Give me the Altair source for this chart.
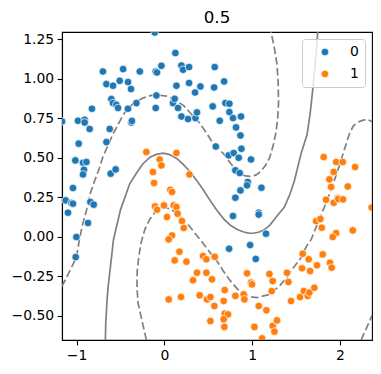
import altair as alt
import pandas as pd

# ---- scatter data ----
blue_x = [-1.166, -0.11, 0.125, -0.70, -0.47, -0.28, -0.10, -0.085, -0.034, 0.194, 0.213, 0.281, 0.573,
          -0.66, -0.585, -0.509, -0.414, -0.38, 0.281, 0.137, 0.41, 0.349, 0.566, 0.68,
          -0.604, -0.585, -0.547, -0.528, -0.825, -0.415, -0.319, -0.099, -0.091, 0.098, 0.117, 0.155,
          0.194, 0.269, 0.353, 0.371, 0.55, 0.695, 0.74, 0.74, 0.63, 0.781, 0.872, 0.816, 0.866,
          0.877, 0.585, 0.732, 0.789, 0.846, 0.986, 0.808, 0.858, 0.949,
          -0.984, -0.908, -0.908, -0.851, -0.976, -1.014, -0.927, -0.888, -0.916, -0.927,
          -0.623, -0.66, -0.612, -0.555, -1.041, -0.376, -0.37,
          -1.124, -1.059, -1.041, -1.098, -0.843, -0.805, -0.87, -1.002, -1.01,
          0.866, 0.941, 1.105, 0.808, 0.781, 1.074, 1.074, 1.157, 0.976, 0.737, 1.04]
blue_y = [0.73, 1.293, 1.163, 1.046, 1.061, 1.046, 1.046, 1.04, 1.082, 1.084, 1.057, 1.074, 1.074,
          0.966, 0.956, 0.987, 0.979, 0.935, 0.973, 0.956, 0.951, 0.913, 0.945, 0.983,
          0.871, 0.846, 0.835, 0.815, 0.81, 0.81, 0.846, 0.815, 0.894, 0.846, 0.873, 0.815,
          0.761, 0.745, 0.751, 0.787, 0.825, 0.846, 0.842, 0.789, 0.734, 0.751, 0.761, 0.692, 0.641,
          0.557, 0.571, 0.515, 0.53, 0.5, 0.489, 0.42, 0.403, 0.346,
          0.734, 0.74, 0.723, 0.682, 0.589, 0.483, 0.468, 0.473, 0.424, 0.394,
          0.682, 0.599, 0.399, 0.426, 0.308, 0.723, 0.733,
          0.23, 0.213, 0.209, 0.152, 0.22, 0.203, 0.087, -0.002, -0.129,
          0.293, 0.325, 0.31, 0.247, 0.131, 0.152, 0.14, 0.019, -0.053, -0.076, -0.141]

orange_x = [-0.205, -0.054, -0.034, 0.137, -0.13, 0.285, -0.118, 0.068, 0.087,
            1.814, 1.955, 2.031, 2.171, 1.928, 1.879, 2.088, 1.898, 1.84, 1.928, 1.974, 1.98, 2.034, 2.36,
            -0.106, -0.005, -0.084, 0.106, 0.137, 0.15, 0.2, 0.03, 0.22, 0.087, 0.049,
            0.171, 0.117, 0.251, 0.44, 0.478, 0.573, 0.371, 0.326, 0.478, 0.542,
            0.402, 0.485, 0.524, 0.569, 0.687, 0.675, 0.808, 0.903, 0.911, 0.941, 0.986, 0.998,
            1.074, 1.162, 1.196, 1.233, 1.222, 1.396, 1.412, 1.442, 0.049, 0.189,
            0.524, 0.687, 0.724, 0.675, 0.683, 1.025, 1.112, 1.233, 1.282, 1.253,
            1.545, 1.575, 1.567, 1.643, 1.659, 1.587, 1.632, 1.651, 1.708, 1.738,
            1.727, 1.776, 1.792, 1.803, 1.886, 1.905, 1.955, 1.917, 2.145]
orange_y = [0.536, 0.489, 0.451, 0.53, 0.41, 0.394, 0.34, 0.297, 0.283,
            0.504, 0.473, 0.473, 0.441, 0.41, 0.363, 0.318, 0.315, 0.234, 0.215, 0.245, 0.238, 0.236, 0.185,
            0.192, 0.198, 0.171, 0.198, 0.188, 0.146, 0.099, 0.125, 0.055, 0.008, -0.017,
            -0.095, -0.15, -0.158, -0.122, -0.143, -0.127, -0.228, -0.276, -0.228, -0.27,
            -0.371, -0.397, -0.382, -0.439, -0.338, -0.407, -0.375, -0.365, -0.397, -0.232, -0.291, -0.302,
            -0.439, -0.466, -0.236, -0.281, -0.344, -0.228, -0.287, -0.407, -0.397, -0.382,
            -0.534, -0.487, -0.492, -0.523, -0.571, -0.571, -0.644, -0.565, -0.53, -0.601,
            -0.382, -0.108, -0.2, -0.143, -0.217, -0.344, -0.375, -0.354, -0.323, -0.181,
            0.099, 0.112, 0.057, -0.112, -0.165, -0.196, 0.023, -0.002, 0.04]

# ---- decision-function contour lines ----
c0_x = [-0.672, -0.668, -0.655, -0.642, -0.623, -0.60, -0.58, -0.50, -0.395, -0.31, -0.244, -0.16, -0.091,
        -0.015, 0.06, 0.144, 0.22, 0.296, 0.37, 0.448, 0.52, 0.599, 0.68, 0.752, 0.83, 0.903, 0.96,
        1.017, 1.08, 1.131, 1.199, 1.28, 1.367, 1.43, 1.481, 1.556, 1.624, 1.66, 1.689, 1.72, 1.746]
c0_y = [-0.654, -0.55, -0.42, -0.323, -0.23, -0.12, -0.019, 0.17, 0.335, 0.41, 0.462, 0.505, 0.521,
        0.529, 0.52, 0.494, 0.455, 0.41, 0.355, 0.293, 0.23, 0.166, 0.11, 0.072, 0.045, 0.03, 0.023,
        0.022, 0.03, 0.042, 0.072, 0.13, 0.188, 0.27, 0.356, 0.525, 0.645, 0.78, 0.93, 1.11, 1.296]

cp_x = [-1.166, -1.08, -1.002, -0.965, -0.93, -0.888, -0.84, -0.79, -0.737, -0.699, -0.585, -0.50,
        -0.433, -0.34, -0.244, -0.15, -0.061, 0.023, 0.099, 0.144, 0.22, 0.296, 0.40, 0.485, 0.554,
        0.62, 0.675, 0.76, 0.82, 0.866, 0.92, 0.979, 1.04, 1.093, 1.15, 1.199, 1.24, 1.27, 1.29, 1.30,
        1.295, 1.28, 1.25, 1.214]
cp_y = [-0.315, -0.22, -0.13, -0.01, 0.08, 0.166, 0.28, 0.36, 0.44, 0.508, 0.65, 0.74,
        0.804, 0.85, 0.878, 0.895, 0.896, 0.89, 0.875, 0.856, 0.83, 0.783, 0.72, 0.652, 0.59,
        0.555, 0.525, 0.46, 0.42, 0.40, 0.385, 0.382, 0.39, 0.41, 0.45, 0.50, 0.58, 0.66, 0.75, 0.85,
        0.99, 1.1, 1.2, 1.296]

cm_x = [-0.205, -0.26, -0.30, -0.312, -0.31, -0.29, -0.262, -0.22, -0.167, -0.10, -0.04, 0.023, 0.08,
        0.137, 0.21, 0.289, 0.35, 0.41, 0.478, 0.54, 0.599, 0.675, 0.752, 0.83, 0.903, 0.98, 1.055,
        1.13, 1.199, 1.314, 1.404, 1.465, 1.556, 1.617, 1.67, 1.745, 1.822, 1.90, 1.974, 2.04, 2.107,
        2.15, 2.202, 2.263, 2.316, 2.364]
cm_y = [-0.654, -0.52, -0.42, -0.323, -0.22, -0.12, -0.03, 0.05, 0.11, 0.16, 0.18, 0.183, 0.172,
        0.15, 0.11, 0.065, 0.02, -0.02, -0.07, -0.115, -0.154, -0.22, -0.28, -0.33, -0.361, -0.38, -0.386,
        -0.375, -0.365, -0.31, -0.25, -0.2, -0.133, -0.061, -0.019, 0.085, 0.188, 0.30, 0.42, 0.535, 0.652,
        0.70, 0.725, 0.738, 0.741, 0.728]

cm2_x = [2.239, 2.30, 2.364]
cm2_y = [-0.654, -0.58, -0.50]

labels = ["0", "1"]
colors = ["#1f77b4", "#ff7f0e"]
title_text = "0.5"
x_ticks = [-1, 0, 1, 2]
y_ticks = [-0.5, -0.25, 0.0, 0.25, 0.5, 0.75, 1.0, 1.25]
x_domain = [-1.166, 2.364]
y_domain = [-0.654, 1.296]

# ---- tables ----
pts = pd.concat([
    pd.DataFrame({"x": blue_x, "y": blue_y, "label": labels[0]}),
    pd.DataFrame({"x": orange_x, "y": orange_y, "label": labels[1]}),
], ignore_index=True)

def seg(xs, ys, name):
    return pd.DataFrame({"x": xs, "y": ys, "seg": name, "i": list(range(len(xs)))})

solid = seg(c0_x, c0_y, "c0")
dashed = pd.concat([seg(cp_x, cp_y, "cp"), seg(cm_x, cm_y, "cm"), seg(cm2_x, cm2_y, "cm2")],
                   ignore_index=True)

xs = alt.Scale(domain=x_domain, nice=False, zero=False)
ys = alt.Scale(domain=y_domain, nice=False, zero=False)
xaxis = alt.Axis(values=x_ticks, format="d", title=None, grid=False)
yaxis = alt.Axis(values=y_ticks, format=".2f", title=None, grid=False)

grey = "#808080"
solid_layer = alt.Chart(solid).mark_line(clip=True, color=grey, strokeWidth=1.7).encode(
    x=alt.X("x:Q", scale=xs, axis=xaxis),
    y=alt.Y("y:Q", scale=ys, axis=yaxis),
    detail="seg:N",
    order="i:Q",
)
dashed_layer = alt.Chart(dashed).mark_line(clip=True, color=grey, strokeWidth=1.7,
                                           strokeDash=[7.5, 3.3]).encode(
    x=alt.X("x:Q", scale=xs, axis=xaxis),
    y=alt.Y("y:Q", scale=ys, axis=yaxis),
    detail="seg:N",
    order="i:Q",
)
scatter = alt.Chart(pts).mark_circle(size=58, opacity=1, stroke="white", strokeWidth=0.7,
                                     clip=True).encode(
    x=alt.X("x:Q", scale=xs, axis=xaxis),
    y=alt.Y("y:Q", scale=ys, axis=yaxis),
    color=alt.Color("label:N", scale=alt.Scale(domain=labels, range=colors),
                    legend=alt.Legend(title=None, orient="top-right", offset=7)),
)

chart = alt.layer(solid_layer, dashed_layer, scatter).properties(
    width=310, height=308,
    title=alt.TitleParams(title_text, fontSize=16.7, font="DejaVu Sans", fontWeight="normal",
                          anchor="middle", offset=5, color="black"),
    autosize="none",
    padding={"left": 54, "top": 24, "right": 1, "bottom": 26},
).configure_view(
    stroke="black", strokeWidth=1.1
).configure_axis(
    labelFont="DejaVu Sans", labelFontSize=13.9, labelColor="black",
    domainColor="black", domainWidth=1.1, tickColor="black", tickWidth=1.1, tickSize=4.9,
    labelPadding=3.5,
).configure_legend(
    labelFont="DejaVu Sans", labelFontSize=13.9, labelColor="black",
    fillColor="rgba(255,255,255,0.8)", strokeColor="#cccccc", cornerRadius=3,
    padding=6, symbolOffset=10, labelOffset=18, rowPadding=7,
    symbolSize=58, symbolType="circle", symbolStrokeColor="white", symbolStrokeWidth=0.7,
    symbolOpacity=1,
)

chart.save("out.html", embed_options={"renderer": "svg", "actions": False})
